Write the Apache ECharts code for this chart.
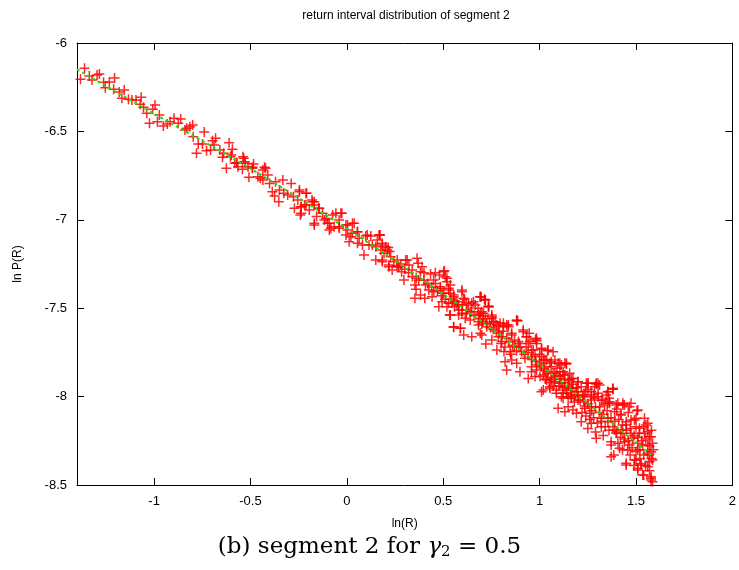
<!DOCTYPE html>
<html>
<head>
<meta charset="utf-8">
<script src="https://cdn.jsdelivr.net/npm/echarts@6/dist/echarts.min.js"></script>
<style>
html,body{margin:0;padding:0;background:#fff;}
#chart{width:739px;height:570px;}
</style>
</head>
<body>
<div id="chart"></div>
<script>
// ---- data ----
const xTickValues = [-1, -0.5, 0, 0.5, 1, 1.5, 2];
const yTickValues = [-8.5, -8, -7.5, -7, -6.5, -6];

const fitX = [-1.4, -1.0, -0.5, 0, 0.5, 1.0, 1.5, 1.59];
const fitY = [-6.15, -6.40, -6.71, -7.05, -7.42, -7.82, -8.26, -8.34];

const segA = [[-1.361,-6.143],[-1.382,-6.205],[-1.336,-6.187],[-1.322,-6.209],[-1.296,-6.181],[-1.284,-6.175],[-1.262,-6.222],[-1.232,-6.221],[-1.253,-6.253],[-1.205,-6.198],[-1.210,-6.262],[-1.181,-6.277],[-1.155,-6.266],[-1.167,-6.313],[-1.133,-6.318],[-1.115,-6.322],[-1.094,-6.322],[-1.067,-6.307],[-1.072,-6.347],[-1.038,-6.398],[-1.055,-6.364],[-1.007,-6.375],[-0.995,-6.351],[-0.973,-6.407],[-1.024,-6.454],[-0.983,-6.445],[-0.952,-6.469],[-0.931,-6.458],[-0.897,-6.426],[-0.917,-6.445],[-0.875,-6.454],[-0.862,-6.430],[-0.840,-6.492],[-0.814,-6.473],[-0.800,-6.464],[-0.831,-6.482],[-0.797,-6.530],[-0.740,-6.503],[-0.771,-6.571],[-0.749,-6.571],[-0.780,-6.624],[-0.728,-6.609],[-0.707,-6.605],[-0.697,-6.553],[-0.681,-6.539],[-0.689,-6.577],[-0.659,-6.605],[-0.639,-6.624],[-0.645,-6.646],[-0.611,-6.564],[-0.594,-6.601],[-0.604,-6.643],[-0.625,-6.709],[-0.573,-6.677],[-0.565,-6.700],[-0.535,-6.652],[-0.527,-6.680],[-0.490,-6.703],[-0.427,-6.703]];

const segB = [[-0.599,-6.633],[-0.582,-6.680],[-0.570,-6.677],[-0.539,-6.643],[-0.530,-6.671],[-0.542,-6.714],[-0.513,-6.700],[-0.484,-6.684],[-0.490,-6.709],[-0.508,-6.760],[-0.462,-6.756],[-0.449,-6.765],[-0.436,-6.718],[-0.422,-6.709],[-0.410,-6.747],[-0.436,-6.775],[-0.370,-6.785],[-0.401,-6.794],[-0.387,-6.841],[-0.375,-6.865],[-0.353,-6.898],[-0.332,-6.775],[-0.350,-6.831],[-0.327,-6.850],[-0.307,-6.860],[-0.289,-6.794],[-0.277,-6.869],[-0.246,-6.841],[-0.255,-6.888],[-0.209,-6.850],[-0.272,-6.935],[-0.237,-6.926],[-0.220,-6.916],[-0.241,-6.973],[-0.195,-6.945],[-0.169,-6.898],[-0.181,-6.888],[-0.147,-6.935],[-0.157,-6.982],[-0.126,-6.963],[-0.169,-7.029],[-0.108,-6.992],[-0.100,-7.020],[-0.057,-6.963],[-0.026,-6.963],[-0.083,-7.048],[-0.040,-7.001],[-0.040,-7.039],[-0.005,-7.029],[0.038,-7.020],[0.003,-7.058],[0.029,-7.076],[0.055,-7.067],[0.064,-7.105],[0.098,-7.092],[0.124,-7.092],[0.170,-7.086],[0.158,-7.114],[0.081,-7.143],[0.132,-7.143],[0.184,-7.143],[0.215,-7.156],
[-0.246,-6.831],[-0.212,-6.850],[-0.237,-6.926],[-0.212,-6.916],[-0.178,-6.898],[-0.169,-6.916],[-0.237,-6.963],[-0.143,-6.935],[-0.169,-7.020],[-0.117,-7.001],[-0.074,-6.973],[-0.031,-6.963],[-0.091,-7.020],[-0.066,-7.039],[-0.091,-7.058],[-0.040,-7.048],[0.003,-7.029],[0.029,-7.020],[-0.005,-7.086],[0.021,-7.096],[0.055,-7.067],[0.012,-7.124],[0.055,-7.133],[0.106,-7.086],[0.167,-7.086],[0.089,-7.199],[0.115,-7.143],[0.150,-7.152],[0.176,-7.171],[0.210,-7.171],[0.150,-7.227],[0.184,-7.227],[0.227,-7.209],[0.261,-7.227],[0.218,-7.265],[0.270,-7.265],[0.305,-7.227]];

const segC = [[0.172,-7.086],[0.184,-7.133],[0.201,-7.152],[0.193,-7.189],[0.222,-7.180],[0.184,-7.237],[0.218,-7.256],[0.244,-7.237],[0.235,-7.284],[0.266,-7.265],[0.284,-7.294],[0.296,-7.341],[0.313,-7.227],[0.322,-7.256],[0.339,-7.284],[0.364,-7.218],[0.370,-7.246],[0.382,-7.294],[0.390,-7.265],[0.373,-7.341],[0.434,-7.307],[0.459,-7.299],[0.480,-7.312],[0.506,-7.288],[0.519,-7.331],[0.353,-7.369],[0.359,-7.393],[0.353,-7.444],[0.382,-7.425],[0.408,-7.369],[0.425,-7.397],[0.404,-7.444],[0.442,-7.435],[0.451,-7.407],[0.485,-7.378],[0.494,-7.416],[0.528,-7.387],[0.537,-7.416],[0.511,-7.450],[0.477,-7.492],[0.528,-7.472],[0.554,-7.435],[0.571,-7.463],[0.559,-7.492],[0.597,-7.407],[0.611,-7.450],[0.597,-7.510],[0.631,-7.482],[0.657,-7.463],[0.692,-7.435],[0.714,-7.450],[0.735,-7.492],[0.648,-7.520],[0.683,-7.538],[0.709,-7.529],[0.752,-7.548],[0.580,-7.538],[0.533,-7.538],[0.614,-7.557],[0.683,-7.576],[0.760,-7.576],[0.795,-7.585],[0.829,-7.595],[0.881,-7.571],[0.554,-7.608],[0.589,-7.614],
[0.300,-7.280],[0.320,-7.300],[0.340,-7.320],[0.360,-7.330],[0.400,-7.340],[0.420,-7.360],[0.440,-7.380],[0.460,-7.360],[0.470,-7.400],[0.490,-7.430],[0.540,-7.450],[0.560,-7.460],[0.580,-7.480],[0.600,-7.480],[0.620,-7.530],[0.640,-7.520],[0.660,-7.540],[0.680,-7.500],[0.620,-7.470],[0.450,-7.340],[0.400,-7.300],[0.260,-7.260],[0.280,-7.250]];

const segD = [[0.697,-7.435],[0.718,-7.454],[0.735,-7.488],[0.692,-7.529],[0.709,-7.544],[0.752,-7.538],[0.769,-7.576],[0.726,-7.605],[0.786,-7.601],[0.812,-7.585],[0.838,-7.605],[0.886,-7.571],[0.700,-7.652],[0.721,-7.703],[0.752,-7.680],[0.786,-7.661],[0.803,-7.689],[0.778,-7.736],[0.829,-7.670],[0.855,-7.642],[0.869,-7.718],[0.890,-7.689],[0.915,-7.623],[0.932,-7.661],[0.941,-7.699],[0.984,-7.684],[0.967,-7.736],[0.847,-7.746],[0.907,-7.746],[0.821,-7.803],[0.855,-7.793],[0.829,-7.850],[0.898,-7.859],[0.881,-7.812],[0.924,-7.783],[0.958,-7.774],[1.010,-7.727],[1.041,-7.740],[1.070,-7.746],[1.027,-7.793],[1.061,-7.803],[0.984,-7.821],[0.958,-7.859],[0.941,-7.897],[1.002,-7.887],[1.027,-7.850],[1.096,-7.812],[1.139,-7.812],[1.079,-7.868],[1.122,-7.859],[1.019,-7.963],[1.053,-7.944],[1.087,-7.981],[1.061,-7.906],[1.113,-7.925],[1.156,-7.906],[1.139,-7.963],[1.173,-7.953],[1.199,-7.972],[1.122,-8.010],[1.165,-8.010],[1.199,-8.019],[1.234,-7.991],[1.251,-7.925],[1.294,-7.925],[1.268,-7.972],[1.285,-8.010],[1.303,-7.981],[1.345,-7.991],[1.380,-7.953],[1.363,-8.029],[1.406,-8.038],[1.440,-8.048],[1.337,-8.048],[1.234,-8.053],[1.268,-8.057],[1.148,-8.057],[1.096,-8.066],
[0.502,-7.294],[0.511,-7.322],[0.519,-7.350],[0.537,-7.369],[0.485,-7.387],[0.502,-7.416],[0.528,-7.397],[0.554,-7.425],[0.597,-7.397],[0.606,-7.444],[0.494,-7.463],[0.519,-7.492],[0.545,-7.472],[0.571,-7.482],[0.580,-7.510],[0.537,-7.538],[0.597,-7.529],[0.623,-7.510],[0.648,-7.472],[0.666,-7.482],[0.692,-7.435],[0.718,-7.454],[0.735,-7.492],[0.700,-7.520],[0.640,-7.567],[0.554,-7.605],[0.589,-7.614],[0.606,-7.652],[0.648,-7.661],[0.692,-7.642],[0.683,-7.595],[0.726,-7.585],[0.752,-7.557],[0.778,-7.595],[0.812,-7.605],[0.838,-7.595],[0.881,-7.567],[0.915,-7.633],[0.932,-7.661],[0.855,-7.652],[0.803,-7.661],[0.984,-7.670],
[0.946,-7.642],[0.950,-7.689],[0.979,-7.676],[0.984,-7.699],[1.010,-7.732],[1.044,-7.736],[0.958,-7.736],[0.976,-7.765],[1.010,-7.774],[1.036,-7.793],[1.053,-7.812],[1.079,-7.793],[1.105,-7.812],[1.131,-7.812],[0.958,-7.831],[0.984,-7.850],[1.010,-7.831],[0.976,-7.887],[1.019,-7.878],[1.044,-7.859],[1.070,-7.868],[1.105,-7.859],[1.122,-7.878],[1.156,-7.868],[1.036,-7.906],[1.079,-7.916],[1.105,-7.925],[1.148,-7.906],[1.173,-7.897],[1.199,-7.916],[1.010,-7.972],[1.053,-7.953],[1.087,-7.963],[1.131,-7.944],[1.165,-7.953],[1.191,-7.972],[1.216,-7.944],[1.242,-7.925],[1.251,-7.959],[1.285,-7.944],[1.303,-7.925],[1.113,-8.001],[1.165,-8.001],[1.225,-7.991],[1.268,-8.001],[1.303,-8.001],[1.354,-7.972],[1.380,-7.959],
[0.690,-7.560],[0.705,-7.575],[0.720,-7.560],[0.740,-7.590],[0.760,-7.620],[0.700,-7.590],[0.745,-7.610],[0.775,-7.630],[0.790,-7.640],[0.810,-7.630],
[0.800,-7.700],[0.820,-7.720],[0.840,-7.690],[0.860,-7.710],[0.880,-7.740],[0.900,-7.720],[0.920,-7.760],[0.940,-7.750],[0.960,-7.790],[0.870,-7.680],[0.895,-7.700],[0.930,-7.720],[0.850,-7.760],[0.815,-7.745],[0.980,-7.800],
[1.000,-7.810],[1.020,-7.840],[1.040,-7.870],[1.060,-7.890],[1.080,-7.900],[1.100,-7.940],[1.120,-7.950],[1.140,-7.980],[1.160,-7.990],[1.180,-8.030],[1.030,-7.900],[1.050,-7.920],[1.070,-7.940],[1.090,-7.880],[1.110,-7.900],[1.130,-7.920],[1.150,-7.940],[1.170,-7.930],[1.190,-7.950],[1.200,-8.000],[1.000,-7.760],[1.020,-7.790],[1.060,-7.830],[1.090,-7.840]];

const segE = [[1.113,-7.821],[1.139,-7.816],[1.105,-7.887],[1.131,-7.878],[1.165,-7.897],[1.199,-7.916],[1.251,-7.925],[1.294,-7.929],[1.354,-7.972],[1.380,-7.959],[1.122,-7.981],[1.148,-8.001],[1.182,-7.991],[1.225,-8.001],[1.268,-8.019],[1.131,-8.085],[1.173,-8.076],[1.191,-8.094],[1.234,-8.066],[1.260,-8.094],[1.311,-8.057],[1.354,-8.038],[1.397,-8.048],[1.432,-8.038],[1.466,-8.057],[1.509,-8.076],[1.216,-8.142],[1.268,-8.151],[1.294,-8.236],[1.320,-8.170],[1.354,-8.123],[1.371,-8.274],[1.385,-8.330],[1.397,-8.208],[1.423,-8.189],[1.449,-8.161],[1.474,-8.132],[1.500,-8.123],[1.544,-8.123],[1.552,-8.161],[1.440,-8.255],[1.415,-8.292],[1.457,-8.302],[1.483,-8.236],[1.518,-8.208],[1.561,-8.198],[1.578,-8.227],[1.586,-8.264],[1.535,-8.274],[1.509,-8.302],[1.449,-8.387],[1.492,-8.359],[1.526,-8.378],[1.569,-8.330],[1.586,-8.359],[1.509,-8.415],[1.540,-8.443],[1.578,-8.462],[1.586,-8.481],[1.561,-8.397],
[1.311,-7.935],[1.328,-8.019],[1.363,-8.038],[1.432,-8.048],[1.474,-8.038],[1.505,-8.080],[1.389,-8.085],[1.423,-8.104],[1.320,-8.123],[1.354,-8.142],[1.449,-8.142],[1.492,-8.132],[1.561,-8.151],[1.518,-8.179],[1.389,-8.189],[1.432,-8.208],[1.474,-8.208],[1.544,-8.208],[1.569,-8.227],[1.371,-8.255],[1.406,-8.264],[1.466,-8.274],[1.509,-8.264],[1.561,-8.274],[1.578,-8.312],[1.371,-8.340],[1.449,-8.377],[1.500,-8.359],[1.526,-8.387],[1.569,-8.368],[1.509,-8.405],[1.535,-8.443],[1.578,-8.453],[1.578,-8.472],
[1.210,-8.020],[1.230,-8.030],[1.250,-8.040],[1.270,-8.080],[1.290,-8.060],[1.310,-8.090],[1.330,-8.100],[1.350,-8.080],[1.370,-8.120],[1.390,-8.140],[1.220,-8.090],[1.240,-8.110],[1.260,-8.130],[1.280,-8.120],[1.300,-8.150],[1.320,-8.140],[1.340,-8.170],[1.360,-8.190],[1.380,-8.170],[1.400,-8.200],[1.240,-7.970],[1.280,-7.990],[1.320,-8.020],[1.360,-8.010],[1.400,-8.070],[1.250,-8.180],[1.290,-8.200],[1.330,-8.220],
[1.410,-8.130],[1.430,-8.160],[1.450,-8.190],[1.470,-8.180],[1.490,-8.220],[1.510,-8.230],[1.530,-8.250],[1.550,-8.240],[1.570,-8.280],[1.420,-8.230],[1.440,-8.240],[1.460,-8.250],[1.480,-8.290],[1.500,-8.310],[1.520,-8.300],[1.540,-8.330],[1.560,-8.320],[1.580,-8.350],[1.430,-8.300],[1.470,-8.330],[1.490,-8.390],[1.520,-8.350],[1.550,-8.390],[1.570,-8.420],[1.420,-8.100],[1.460,-8.090],[1.500,-8.170],[1.540,-8.170],[1.580,-8.190],[1.590,-8.300]];

// ---- chart ----
const scatterData = segA.concat(segB, segC, segD, segE);
const fitData = fitX.map((x, i) => [x, fitY[i]]);

const plusPath = 'path://M0,4.25H4.25V0H5.75V4.25H10V5.75H5.75V10H4.25V5.75H0Z';
const fontFam = '"Liberation Sans", Arial, sans-serif';

const chart = echarts.init(document.getElementById('chart'), null, {renderer: 'canvas'});
const axisCommon = {
  type: 'value',
  axisLine: {show: true, onZero: false, lineStyle: {color: '#000', width: 1}},
  splitLine: {show: false},
  axisTick: {show: true, inside: true, length: 7, lineStyle: {color: '#000', width: 1}},
};
chart.setOption({
  animation: false,
  backgroundColor: '#fff',
  title: {
    text: 'return interval distribution of segment 2',
    left: 406, top: 10, padding: 0, textAlign: 'center',
    textStyle: {fontFamily: fontFam, fontSize: 12, fontWeight: 'normal', color: '#000'}
  },
  grid: {left: 77, right: 4, top: 43, bottom: 85, containLabel: false},
  xAxis: [
    Object.assign({}, axisCommon, {
      min: -1.4, max: 2, position: 'bottom',
      name: 'ln(R)', nameLocation: 'middle', nameGap: 33,
      nameTextStyle: {fontFamily: fontFam, fontSize: 12, color: '#000'},
      axisTick: Object.assign({}, axisCommon.axisTick, {customValues: xTickValues}),
      axisLabel: {customValues: xTickValues, fontFamily: fontFam, fontSize: 13, color: '#000', margin: 10}
    }),
    Object.assign({}, axisCommon, {
      min: -1.4, max: 2, position: 'top',
      axisTick: Object.assign({}, axisCommon.axisTick, {customValues: xTickValues}),
      axisLabel: {show: false}
    })
  ],
  yAxis: [
    Object.assign({}, axisCommon, {
      min: -8.5, max: -6, interval: 0.5, position: 'left',
      name: 'ln P(R)', nameLocation: 'middle', nameGap: 53, nameRotate: 90,
      nameTextStyle: {fontFamily: fontFam, fontSize: 12, color: '#000'},
      axisLabel: {fontFamily: fontFam, fontSize: 13, color: '#000', margin: 10}
    }),
    Object.assign({}, axisCommon, {
      min: -8.5, max: -6, interval: 0.5, position: 'right',
      axisLabel: {show: false}
    })
  ],
  series: [
    {
      type: 'scatter',
      data: scatterData,
      symbol: plusPath,
      symbolSize: 10,
      itemStyle: {color: '#ff0000', opacity: 0.85},
      z: 2
    },
    {
      type: 'line',
      data: fitData,
      smooth: 0.3,
      showSymbol: false,
      lineStyle: {color: '#22dd00', width: 2, type: [3, 3]},
      z: 3
    }
  ],
  graphic: [{
    type: 'text',
    left: 'center', top: 536,
    style: {
      text: '{a|(b) segment 2 for }{g|γ}{s|2}{a| = 0.5}',
      rich: {
        a: {fontFamily: '"DejaVu Serif", "Liberation Serif", serif', fontSize: 23, fill: '#000'},
        g: {fontFamily: '"DejaVu Serif", "Liberation Serif", serif', fontSize: 23, fontStyle: 'italic', fill: '#000'},
        s: {fontFamily: '"DejaVu Serif", "Liberation Serif", serif', fontSize: 15, fill: '#000', padding: [10, 0, 0, 0]}
      }
    }
  }]
});
</script>
</body>
</html>
